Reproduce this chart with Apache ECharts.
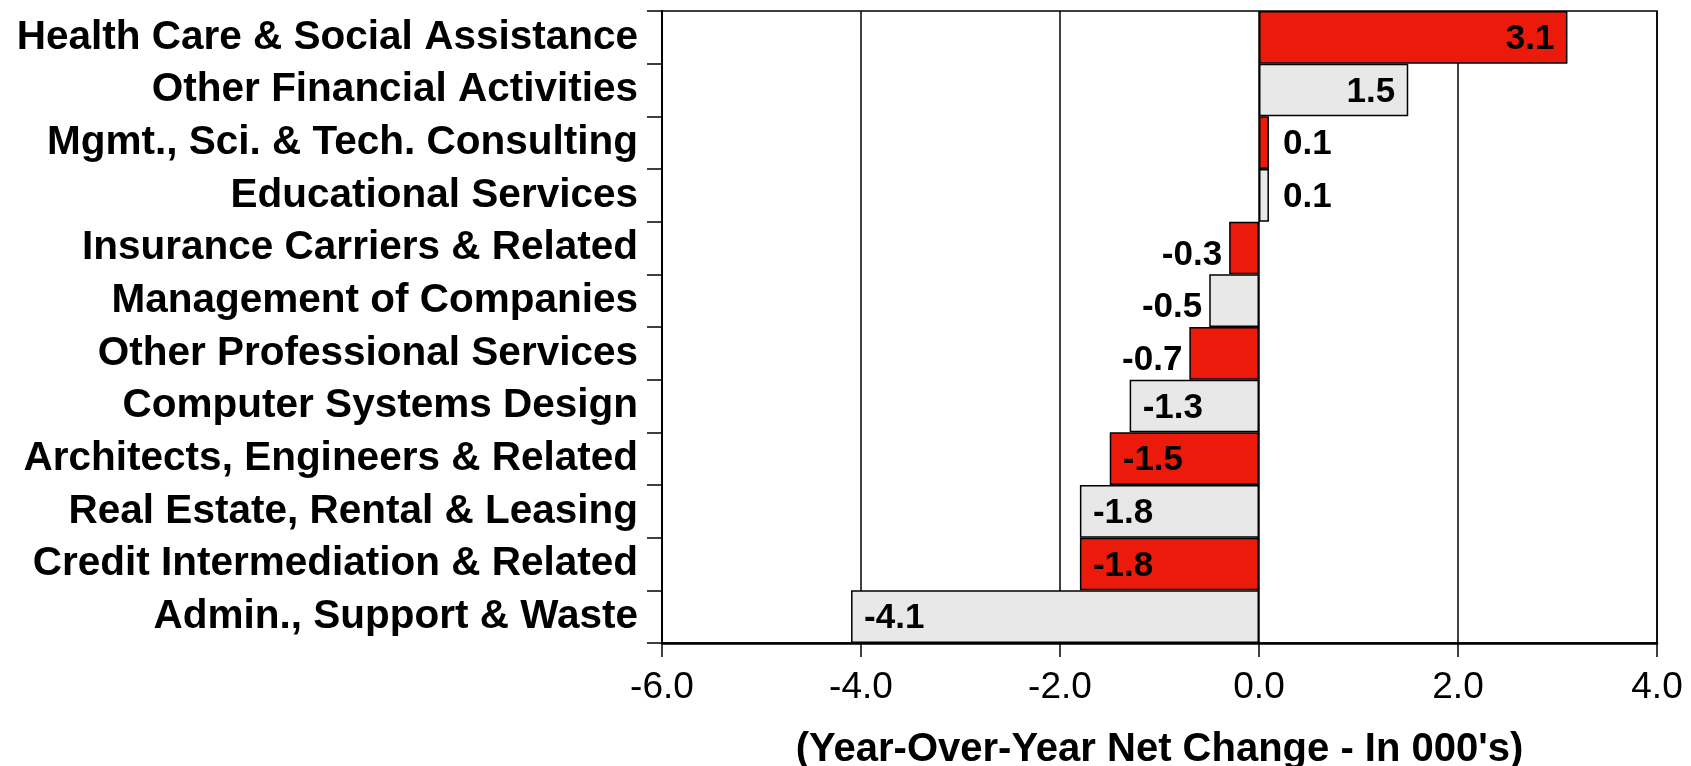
<!DOCTYPE html>
<html>
<head>
<meta charset="utf-8">
<script src="https://cdn.jsdelivr.net/npm/echarts@6/dist/echarts.min.js"></script>
<style>
html,body{margin:0;padding:0;background:#fff;}
#chart{width:1691px;height:766px;}
</style>
</head>
<body>
<div id="chart"></div>
<script>
const categories = [
  'Health Care & Social Assistance',
  'Other Financial Activities',
  'Mgmt., Sci. & Tech. Consulting',
  'Educational Services',
  'Insurance Carriers & Related',
  'Management of Companies',
  'Other Professional Services',
  'Computer Systems Design',
  'Architects, Engineers & Related',
  'Real Estate, Rental & Leasing',
  'Credit Intermediation & Related',
  'Admin., Support & Waste'
];
const values = [3.1, 1.5, 0.1, 0.1, -0.3, -0.5, -0.7, -1.3, -1.5, -1.8, -1.8, -4.1];
const xTicks = [-6, -4, -2, 0, 2, 4];
const axisTitle = "(Year-Over-Year Net Change - In 000's)";

const FONT = 'Liberation Sans, Arial, Helvetica, sans-serif';
const RED = '#EC1A0A';
const GRAY = '#E8E8E8';

const seriesData = values.map(function (v, i) {
  let pos, dist, off;
  if (Math.abs(v) >= 1) {
    pos = v > 0 ? 'insideRight' : 'insideLeft';
    dist = 13; off = [0, 2];
  } else if (v > 0) {
    pos = 'right'; dist = 14; off = [0, 2];
  } else {
    pos = 'left'; dist = 7; off = [0, 7];
  }
  return {
    value: v,
    itemStyle: { color: i % 2 === 0 ? RED : GRAY },
    label: { position: pos, distance: dist, offset: off }
  };
});

const chart = echarts.init(document.getElementById('chart'), null, { renderer: 'canvas' });
chart.setOption({
  animation: false,
  backgroundColor: '#fff',
  grid: {
    left: 662, right: 34, top: 11, bottom: 123,
    outerBoundsMode: 'none',
    containLabel: false,
    show: true, borderColor: '#000', borderWidth: 1.5
  },
  xAxis: {
    type: 'value',
    min: xTicks[0],
    max: xTicks[xTicks.length - 1],
    interval: 2,
    position: 'bottom',
    axisLine: { show: true, lineStyle: { color: '#000', width: 2.5 } },
    axisTick: { show: true, length: 14, lineStyle: { color: '#000', width: 1.5 } },
    axisLabel: {
      color: '#000', fontSize: 37, fontFamily: FONT, margin: 26,
      formatter: function (v) { return v.toFixed(1); }
    },
    splitLine: { show: true, lineStyle: { color: '#000', width: 1.5 } },
    name: axisTitle,
    nameLocation: 'middle',
    nameGap: 87,
    nameTextStyle: { color: '#000', fontSize: 40, fontWeight: 'bold', fontFamily: FONT }
  },
  yAxis: {
    type: 'category',
    inverse: true,
    data: categories,
    axisLine: { show: true, onZero: false, lineStyle: { color: '#000', width: 2 } },
    axisTick: { show: true, interval: 0, length: 15, lineStyle: { color: '#000', width: 1.5 } },
    axisLabel: {
      interval: 0, color: '#000', fontSize: 40.5, fontWeight: 'bold', fontFamily: FONT,
      margin: 24, padding: [16, 0, 0, 0]
    },
    splitLine: { show: false }
  },
  series: [{
    type: 'bar',
    data: seriesData,
    barCategoryGap: '0%',
    itemStyle: { borderColor: '#000', borderWidth: 1.5 },
    label: {
      show: true, color: '#000', fontSize: 35, fontWeight: 'bold', fontFamily: FONT,
      formatter: function (p) { return p.value.toFixed(1); }
    }
  }]
});
</script>
</body>
</html>
